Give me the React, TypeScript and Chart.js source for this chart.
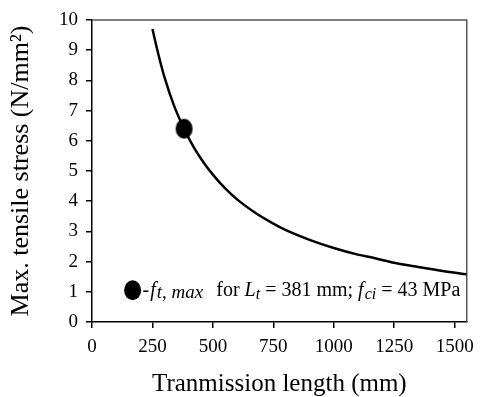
import React, { useEffect, useRef } from "react";
import { Chart, registerables } from "chart.js";

Chart.register(...registerables);

// Data
const curveX = [250, 275, 300, 340, 381, 420, 460, 500, 550, 600, 675, 750, 800, 900, 1000, 1100, 1167, 1250, 1350, 1450, 1550];
const curveY = [9.7, 8.85, 8.1, 7.15, 6.4, 5.8, 5.3, 4.88, 4.43, 4.06, 3.62, 3.26, 3.05, 2.72, 2.45, 2.23, 2.12, 1.96, 1.82, 1.69, 1.58];
const markerX = [381];
const markerY = [6.4];
const xTicks = [0, 250, 500, 750, 1000, 1250, 1500];
const yTicks = [0, 1, 2, 3, 4, 5, 6, 7, 8, 9, 10];
const xTitle = "Tranmission length (mm)";
const yTitle = "Max. tensile stress (N/mm²)";

const SERIF = "'Liberation Serif', 'Times New Roman', serif";

function makeEllipse(rx: number, ry: number) {
  const c = document.createElement("canvas");
  c.width = Math.ceil(rx * 2) + 2;
  c.height = Math.ceil(ry * 2) + 2;
  const g = c.getContext("2d")!;
  g.fillStyle = "#000";
  g.beginPath();
  g.ellipse(c.width / 2, c.height / 2, rx, ry, 0, 0, Math.PI * 2);
  g.fill();
  return c;
}

const boxAndNote = {
  id: "boxAndNote",
  beforeDatasetsDraw(chart: any) {
    const { ctx, chartArea: a } = chart;
    ctx.save();
    ctx.strokeStyle = "#555";
    ctx.lineWidth = 1.5;
    ctx.beginPath();
    ctx.moveTo(a.left, a.top);
    ctx.lineTo(a.right, a.top);
    ctx.lineTo(a.right, a.bottom);
    ctx.stroke();
    ctx.restore();
  },
  afterDraw(chart: any) {
    const { ctx } = chart;
    const xs = chart.scales.x;
    const ys = chart.scales.y;
    const cx = xs.getPixelForValue(168);
    const cy = ys.getPixelForValue(1.05);
    ctx.save();
    ctx.fillStyle = "#000";
    ctx.beginPath();
    ctx.ellipse(cx, cy, 8.5, 10, 0, 0, Math.PI * 2);
    ctx.fill();
    const base = cy + 6;
    // [text, font, baseline shift, gap before]
    const parts: [string, string, number, number][] = [
      ["-", "20px", 0, 10],
      ["f", "italic 20px", 0, 1],
      ["t, max", "italic 19px", 2, 1],
      ["for ", "20px", 0, 13],
      ["L", "italic 20px", 0, 0],
      ["t", "italic 16px", 3, 0],
      [" = 381 mm; ", "20px", 0, 0],
      ["f", "italic 20px", 0, 0],
      ["ci", "italic 16px", 3, 1],
      [" = 43 MPa", "20px", 0, 0],
    ];
    ctx.textBaseline = "alphabetic";
    let x = cx;
    for (const [t, f, dy, gap] of parts) {
      ctx.font = `${f} ${SERIF}`;
      x += gap;
      ctx.fillText(t, x, base + dy);
      x += ctx.measureText(t).width;
    }
    ctx.restore();
  },
};

export default function App() {
  const ref = useRef<HTMLCanvasElement | null>(null);
  useEffect(() => {
    if (!ref.current) return;
    const markerImg = makeEllipse(8.5, 10);
    const chart = new Chart(ref.current, {
      type: "scatter",
      data: {
        datasets: [
          {
            data: curveX.map((x, i) => ({ x, y: curveY[i] })),
            showLine: true,
            borderColor: "#000",
            borderWidth: 2.5,
            pointRadius: 0,
            cubicInterpolationMode: "monotone",
          } as any,
          {
            data: markerX.map((x, i) => ({ x, y: markerY[i] })),
            pointStyle: markerImg,
            pointRadius: 10,
            backgroundColor: "#000",
            borderColor: "#000",
          },
        ],
      },
      options: {
        responsive: false,
        animation: false,
        layout: { padding: { top: 20, right: 9, left: 0, bottom: 0 } },
        plugins: { legend: { display: false }, tooltip: { enabled: false } },
        scales: {
          x: {
            type: "linear",
            min: 0,
            max: 1550,
            afterBuildTicks: (s: any) => {
              s.ticks = xTicks.map((v) => ({ value: v }));
            },
            afterFit: (s: any) => {
              s.height = 75;
            },
            ticks: {
              color: "#000",
              font: { family: SERIF, size: 19 },
              padding: 8,
              maxRotation: 0,
              callback: (v: any) => String(v),
            },
            grid: { drawOnChartArea: false, drawTicks: true, tickLength: 6, color: "#000", lineWidth: 1.5 },
            border: { color: "#000", width: 1.5 },
            title: {
              display: true,
              text: xTitle,
              color: "#000",
              font: { family: SERIF, size: 25, lineHeight: 1.0 },
              padding: { top: 0, bottom: 0 },
            },
          },
          y: {
            type: "linear",
            min: 0,
            max: 10,
            afterBuildTicks: (s: any) => {
              s.ticks = yTicks.map((v) => ({ value: v }));
            },
            afterFit: (s: any) => {
              s.width = 92;
            },
            ticks: {
              color: "#000",
              font: { family: SERIF, size: 19 },
              padding: 8,
              callback: (v: any) => String(v),
            },
            grid: { drawOnChartArea: false, drawTicks: true, tickLength: 6, color: "#000", lineWidth: 1.5 },
            border: { color: "#000", width: 1.5 },
            title: {
              display: true,
              text: yTitle,
              color: "#000",
              font: { family: SERIF, size: 26, lineHeight: 1.2 },
              padding: { top: 6, bottom: 0 },
            },
          },
        },
      },
      plugins: [boxAndNote],
    });
    return () => chart.destroy();
  }, []);
  return (
    <div style={{ position: "absolute", left: 0, top: 0, width: 482, height: 397, background: "#fff" }}>
      <canvas ref={ref} width={482} height={397} />
    </div>
  );
}
